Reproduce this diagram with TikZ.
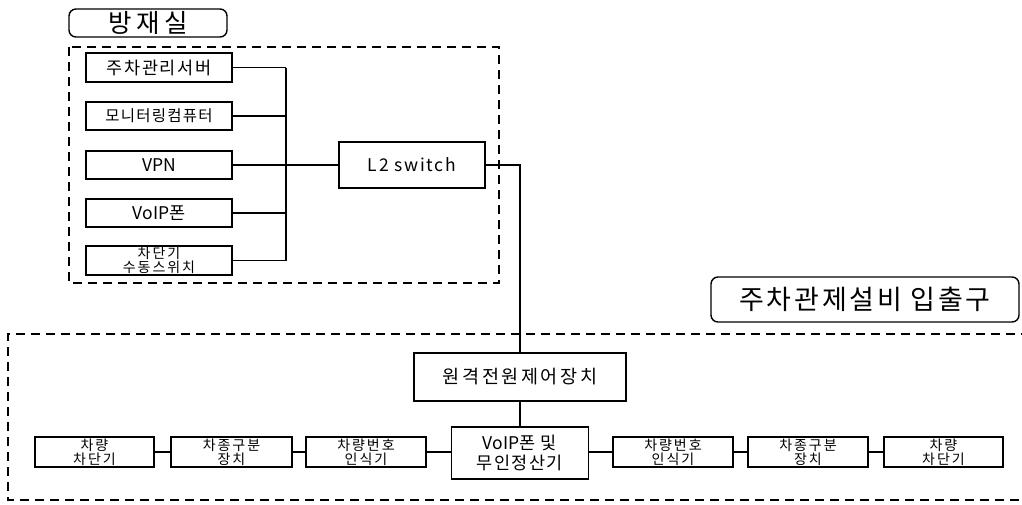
\documentclass[tikz,border=0pt]{standalone}
\usepackage{fontspec}
\setmainfont{Noto Sans CJK KR}
\newcommand{\nols}[1]{{\addfontfeature{LetterSpace=0}#1}}
\begin{document}
\begin{tikzpicture}[x=1pt,y=-1pt,
  box/.style={draw=black,line width=1.8pt,inner sep=0pt,align=center,fill=white},
  ttl/.style={draw=black,line width=1.4pt,rounded corners=7pt,inner sep=0pt,align=center},
  wire/.style={draw=black,line width=1.8pt},
  zone/.style={draw=black,line width=1.8pt,dash pattern=on 9pt off 6pt},
  fA/.style={font=\fontsize{17.5}{19}\selectfont\addfontfeature{LetterSpace=10}},
  fB/.style={font=\fontsize{15.5}{17}\selectfont\addfontfeature{LetterSpace=8}},
  fS/.style={font=\fontsize{14}{13.5}\selectfont\addfontfeature{LetterSpace=14}},
  fM/.style={font=\fontsize{18.5}{21}\selectfont\addfontfeature{LetterSpace=14}},
  fV/.style={font=\fontsize{17.5}{20}\selectfont\addfontfeature{LetterSpace=8}},
]
\useasboundingbox (0,0) rectangle (1022,504);
% zones
\draw[zone] (69,47) rectangle (499,283);
\draw[zone] (1030,334) -- (8,334) -- (8,500) -- (1030,500);
% titles
\node[ttl,minimum width=158pt,minimum height=28pt,font=\fontsize{25.5}{26}\selectfont\addfontfeature{LetterSpace=18}] (t1) at (148,23) {방재실};
\node[ttl,minimum width=308pt,minimum height=45pt,font=\fontsize{27}{28}\selectfont\addfontfeature{LetterSpace=10}] (t2) at (865,299.5) {주차관제설비 입출구};
% top boxes
\node[box,fA,minimum width=146pt,minimum height=29pt] (s1) at (159,67.5) {주차관리서버};
\node[box,fB,minimum width=146pt,minimum height=28pt] (s2) at (159,116) {모니터링컴퓨터};
\node[box,fA,minimum width=146pt,minimum height=28pt] (s3) at (159,165) {\nols{VPN}};
\node[box,fA,minimum width=146pt,minimum height=28pt] (s4) at (159,213) {\nols{VoIP}폰};
\node[box,fS,minimum width=146pt,minimum height=29pt] (s5) at (159,260.5) {차단기\\수동스위치};
\node[box,fA,minimum width=146pt,minimum height=46pt] (l2) at (412,165) {L2 switch};
\coordinate (bt) at (286,67.5);
\coordinate (bb) at (286,260.5);
\draw[wire] (bt) -- (bb);
\foreach \n in {s1,s2,s3,s4,s5} \draw[wire] (\n.east) -- (\n.east -| bt);
\draw[wire] (s3.east -| bt) -- (l2.west);
% bottom boxes
\node[box,fM,minimum width=212pt,minimum height=48pt] (rc) at (520,377) {원격전원제어장치};
\node[box,fV,minimum width=137pt,minimum height=52pt] (vo) at (520,453) {\nols{VoIP}폰 및\\무인정산기};
\draw[wire] (l2.east) -| (rc.north);
\draw[wire] (rc.south) -- (vo.north);
\node[box,fS,minimum width=119pt,minimum height=30pt] (a1) at (94.5,452) {차량\\차단기};
\node[box,fS,minimum width=121pt,minimum height=30pt] (a2) at (231.5,452) {차종구분\\장치};
\node[box,fS,minimum width=120pt,minimum height=30pt] (a3) at (366,452) {차량번호\\인식기};
\node[box,fS,minimum width=120pt,minimum height=30pt] (b1) at (673,452) {차량번호\\인식기};
\node[box,fS,minimum width=120pt,minimum height=30pt] (b2) at (808,452) {차종구분\\장치};
\node[box,fS,minimum width=119pt,minimum height=30pt] (b3) at (943.5,452) {차량\\차단기};
\draw[wire] (a1.east) -- (a2.west);
\draw[wire] (a2.east) -- (a3.west);
\draw[wire] (a3.east) -- (vo.west |- a3.east);
\draw[wire] (vo.east |- b1.west) -- (b1.west);
\draw[wire] (b1.east) -- (b2.west);
\draw[wire] (b2.east) -- (b3.west);
\end{tikzpicture}
\end{document}
